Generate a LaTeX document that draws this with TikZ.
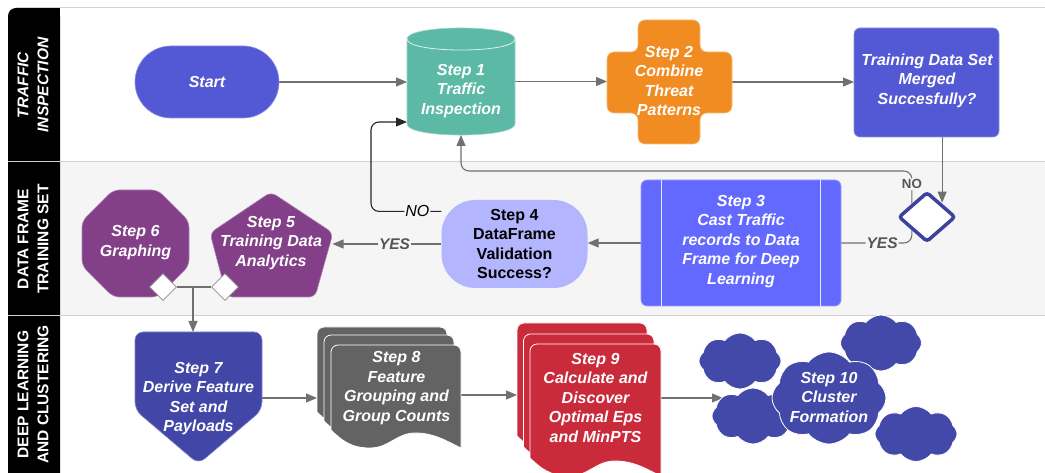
\documentclass[tikz,border=0pt]{standalone}
\usepackage{fontspec}
\setmainfont{Liberation Sans}
\usetikzlibrary{arrows.meta,shapes.geometric,shapes.symbols,calc}
\pgfdeclarelayer{lanes}
\pgfdeclarelayer{conn}
\pgfsetlayers{lanes,conn,main}
\definecolor{cStart}{HTML}{5358D4}
\definecolor{cTeal}{HTML}{5BB9A5}
\definecolor{cOrange}{HTML}{F18C23}
\definecolor{cTds}{HTML}{5358D4}
\definecolor{cSthree}{HTML}{6369FF}
\definecolor{cSfour}{HTML}{B3B5FE}
\definecolor{cPurple}{HTML}{833F87}
\definecolor{cSseven}{HTML}{4146A7}
\definecolor{cGrayDoc}{HTML}{636363}
\definecolor{cRed}{HTML}{C92B3B}
\definecolor{cCloud}{HTML}{4349A9}
\definecolor{cDia}{HTML}{3C439F}
\definecolor{laneBg}{HTML}{F5F5F5}
\definecolor{sepGray}{HTML}{D2D2D2}
\definecolor{arrGray}{HTML}{707070}
\definecolor{labGray}{HTML}{555555}
\newcommand{\docpage}[5]{%
  \filldraw[fill=#1, draw=white, line width=0.8pt]
  (#2,{#5-18}) [rounded corners=7pt] -- (#2,#3) -- (#4,#3) [sharp corners] -- (#4,#5)
  .. controls ({#4-0.1*(#4-#2)},{#5-6}) and ({#4-0.2*(#4-#2)},{#5-15}) .. ({#2+0.65*(#4-#2)},{#5-15})
  .. controls ({#2+0.5*(#4-#2)},{#5-15}) and ({#2+0.45*(#4-#2)},#5) .. ({#2+0.3*(#4-#2)},#5)
  .. controls ({#2+0.15*(#4-#2)},#5) and ({#2+0.08*(#4-#2)},{#5-8}) .. (#2,{#5-18}) -- cycle;}
\tikzset{
  txt/.style={text=white, font=\bfseries\itshape\fontsize{16}{19.5}\selectfont, align=center, inner sep=0pt},
  anch/.style={inner sep=0pt, outer sep=0pt, draw=none, fill=none, shape=rectangle},
  lanelab/.style={text=white, font=\bfseries\fontsize{15.5}{20}\selectfont, align=center, inner sep=0pt, rotate=90},
  arr/.style={draw=arrGray, line width=1.1pt, -{Triangle[length=11pt,width=9pt]}},
  arrblack/.style={draw=black!85, line width=1.1pt, -{Triangle[length=11pt,width=9pt]}},
  plainline/.style={draw=arrGray, line width=1.1pt},
  yeslab/.style={fill=laneBg, text=labGray, font=\bfseries\itshape\fontsize{15.5}{18}\selectfont, inner sep=1pt},
  nolab/.style={fill=laneBg, text=labGray, font=\bfseries\fontsize{13.3}{16}\selectfont, inner sep=1pt},
  noblack/.style={fill=laneBg, text=black, font=\itshape\fontsize{16}{18}\selectfont, inner sep=1pt},
  cloudst/.style={cloud, cloud puffs=8, cloud puff arc=105, aspect=1.5, fill=cCloud, draw=white, line width=0.8pt, inner sep=0pt},
  smalldia/.style={diamond, draw=arrGray!80, fill=white, line width=0.8pt, minimum width=27pt, minimum height=27pt, inner sep=0pt}
}
\begin{document}
\begin{tikzpicture}[x=1pt,y=-1pt]
\useasboundingbox (0,0) rectangle (1045,473);
% ---------- lanes ----------
\begin{pgfonlayer}{lanes}
\fill[white] (0,0) rectangle (1045,473);
\fill[laneBg] (60,162) rectangle (1045,316);
\fill[black, rounded corners=8pt] (8,490) -- (8,8) -- (60,8) -- (60,490) -- cycle;
\fill[black] (50,8) rectangle (60,20);
\draw[sepGray, line width=1pt] (16,7.5) -- (1045,7.5);
\draw[sepGray, line width=1pt] (8,162) -- (1045,162);
\draw[sepGray, line width=1pt] (8,316) -- (1045,316);
\end{pgfonlayer}
\node[lanelab, font=\bfseries\itshape\fontsize{15.5}{20}\selectfont] (lane1) at (33,85) {TRAFFIC\\INSPECTION};
\node[lanelab] (lane2) at (33,239) {DATA FRAME\\TRAINING SET};
\node[lanelab] (lane3) at (33,394.5) {DEEP LEARNING\\AND CLUSTERING};
% ---------- anchor nodes ----------
\node[anch, minimum width=108pt, minimum height=107pt] (s1) at (461,81.5) {};
\node[anch, minimum width=125pt, minimum height=124pt] (s2) at (669.5,82) {};
\node[anch, minimum width=123pt, minimum height=105pt] (s5) at (271,245) {};
\node[anch, minimum width=107pt, minimum height=107pt] (s6) at (135.5,243.5) {};
\node[anch, minimum width=127pt, minimum height=132pt] (s7) at (198.5,398) {};
\node[anch, minimum width=144pt, minimum height=106pt] (s8) at (389,395) {};
\node[anch, minimum width=144pt, minimum height=110pt] (s9) at (589,398) {};
\coordinate (jn) at (193,287);
\coordinate (cin) at (723,398);
\coordinate (noY) at (0,171);
\coordinate (noL) at (371,122);
% ---------- top lane shapes ----------
\node[txt, shape=rectangle, rounded corners=35.9pt, fill=cStart, draw=white!35!cStart, line width=0.6pt, minimum width=144pt, minimum height=72pt] (start) at (207,82) {Start};
\fill[cTeal, draw=white!40!cTeal, line width=0.6pt] (407,39) -- (407,124) .. controls (407,138.7) and (515,138.7) .. (515,124) -- (515,39) .. controls (515,24.3) and (407,24.3) .. (407,39) -- cycle;
\draw[white!80!cTeal, line width=0.8pt] (407,39) .. controls (407,53.7) and (515,53.7) .. (515,39);
\node[txt] (s1t) at (461,91) {Step 1\\Traffic\\Inspection};
\filldraw[fill=cOrange, draw=white!40!cOrange, line width=0.6pt, rounded corners=7pt] (638,20) -- (700,20) -- (700,52) -- (732,52) -- (732,113) -- (700,113) -- (700,144) -- (638,144) -- (638,113) -- (607,113) -- (607,52) -- (638,52) -- cycle;
\node[txt] (s2t) at (669,81) {Step 2\\Combine\\Threat\\Patterns};
\node[anch, rounded corners=6pt, fill=cTds, draw=white!35!cTds, line width=0.6pt, minimum width=145pt, minimum height=109pt] (tds) at (926.5,82.5) {};
\node[txt] (tdst) at (927,80.5) {Training Data Set\\Merged\\Succesfully?};
% ---------- middle lane shapes ----------
\node[diamond, draw=cDia, line width=3.5pt, fill=white, minimum width=57pt, minimum height=50pt, inner sep=0pt, rounded corners=3pt] (dia) at (927,217) {};
\node[anch, rounded corners=6pt, fill=cSthree, draw=white!35!cSthree, line width=0.6pt, minimum width=200pt, minimum height=126pt] (s3) at (741,243) {};
\draw[white!85!cSthree, line width=0.8pt] ($(s3.north west)+(20,0)$) -- ($(s3.south west)+(20,0)$);
\draw[white!85!cSthree, line width=0.8pt] ($(s3.north east)+(-21,0)$) -- ($(s3.south east)+(-21,0)$);
\node[txt] (s3t) at (741,241.5) {Step 3\\Cast Traffic\\records to Data\\Frame for Deep\\Learning};
\node[txt, text=black, font=\bfseries\fontsize{16}{19.5}\selectfont, shape=rectangle, rounded corners=34pt, fill=cSfour, minimum width=146pt, minimum height=88pt] (s4) at (514.5,244) {Step 4\\DataFrame\\Validation\\Success?};
\filldraw[fill=cPurple, draw=white!35!cPurple, line width=0.6pt, rounded corners=6pt] (271,192) -- (333,233) -- (315,297) -- (227,297) -- (210,233) -- cycle;
\node[txt] (s5t) at (271,243) {Step 5\\Training Data\\Analytics};
\filldraw[fill=cPurple, draw=white!35!cPurple, line width=0.6pt, rounded corners=6pt] (113.3,190) -- (157.7,190) -- (189,221.3) -- (189,265.7) -- (157.7,297) -- (113.3,297) -- (82,265.7) -- (82,221.3) -- cycle;
\node[txt] (s6t) at (135.5,242.5) {Step 6\\Graphing};
\node[smalldia] (d6) at (163,287) {};
\node[smalldia] (d5) at (225,287) {};
% ---------- bottom lane shapes ----------
\filldraw[fill=cSseven, draw=white!35!cSseven, line width=0.6pt, rounded corners=8pt] (135,332) -- (262,332) -- (262,410) -- (198.5,464) -- (135,410) -- cycle;
\node[txt] (s7t) at (198.5,398.5) {Step 7\\Derive Feature\\Set and\\Payloads};
\docpage{cGrayDoc}{317}{327}{447}{430}
\docpage{cGrayDoc}{324}{335}{454}{439}
\docpage{cGrayDoc}{331}{345}{461}{448}
\node[txt] (s8t) at (396.5,388) {Step 8\\Feature\\Grouping and\\Group Counts};
\docpage{cRed}{517}{323}{647}{454}
\docpage{cRed}{523.5}{334}{654}{465}
\docpage{cRed}{530}{344}{661}{476}
\node[txt] (s9t) at (595.5,397.5) {Step 9\\Calculate and\\Discover\\Optimal Eps\\and MinPTS};
\node[cloudst, minimum width=82pt, minimum height=56pt] (cA) at (740,361) {};
\node[cloudst, minimum width=82pt, minimum height=56pt] (cB) at (753,416) {};
\node[cloudst, minimum width=81pt, minimum height=56pt] (cC) at (881,343) {};
\node[cloudst, minimum width=82pt, minimum height=55pt] (cD) at (916,434) {};
\node[cloudst, minimum width=114pt, minimum height=92pt] (c10) at (829,398) {};
\node[txt] (c10t) at (829,397) {Step 10\\Cluster\\Formation};
% ---------- connectors ----------
\begin{pgfonlayer}{conn}
\draw[arr] (start.east) -- (start.east -| s1.west);
\draw[arr] (s1.east) -- (s1.east -| s2.west);
\draw[arr] (s2.east) -- (s2.east -| tds.west);
\draw[arr, shorten >=1pt] (tds.south -| dia.north east) -- (dia.north east);
\draw[arr, rounded corners=8pt] (dia.north west) -- node[nolab, pos=0.6] {NO} (dia.north west |- noY) -| (s1.south);
\draw[plainline, rounded corners=8pt] (dia.south west) |- node[yeslab, pos=0.71] {YES} (s3.east);
\draw[arr] (s3.west) -- (s3.west -| s4.east);
\draw[arrblack, rounded corners=8pt] (s4.156) -| node[noblack, pos=0.17] {NO} (noL) -- (noL -| s1.west);
\draw[arr] (s4.west) -- node[yeslab, pos=0.43] {YES} (s4.west -| s5.east);
\draw[plainline] (d6.east) -- (d5.west);
\draw[arr] (jn) -- (jn |- s7.north);
\draw[arr] (s7.east) -- (s7.east -| s8.west);
\draw[arr] (s8.east) -- (s8.east -| s9.west);
\draw[arr] (s9.east) -- (cin);
\end{pgfonlayer}
\end{tikzpicture}
\end{document}
